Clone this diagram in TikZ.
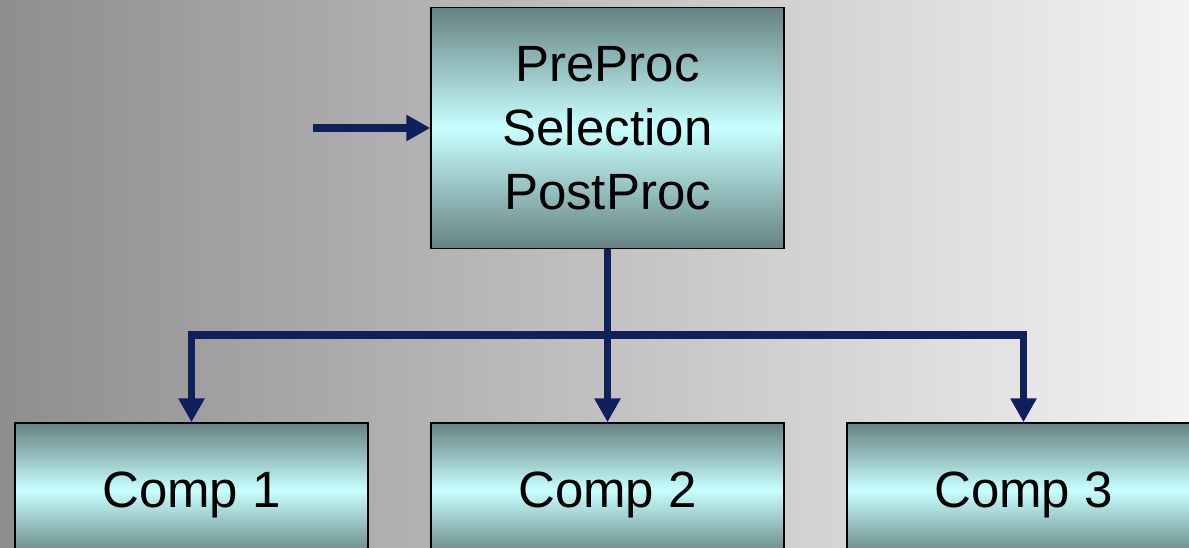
\documentclass[tikz,border=0pt]{standalone}
\usepackage{fontspec}
\setmainfont{Liberation Sans}
\usetikzlibrary{arrows.meta}
\definecolor{bgleft}{HTML}{8E8E8E}
\definecolor{bgright}{HTML}{F3F3F3}
\definecolor{boxdark}{HTML}{668282}
\definecolor{boxlight}{HTML}{C8FFFF}
\definecolor{navy}{HTML}{10205A}
\tikzset{
  block/.style={draw=black, line width=1.5pt, rectangle, inner sep=0pt,
    minimum width=353pt, top color=boxdark, bottom color=boxdark,
    middle color=boxlight, shading=axis, align=center,
    font=\fontsize{51}{64}\selectfont},
  compblock/.style={block, minimum height=134pt, text depth=0pt},
  conn/.style={draw=navy, line width=7.5pt, line join=miter,
    -{Triangle[length=24pt,width=25pt]}}
}
\begin{document}
\begin{tikzpicture}[x=1pt,y=-1pt]
  \useasboundingbox (0,0) rectangle (1189,548);
  \clip (0,0) rectangle (1189,548);
  % background
  \shade[left color=bgleft, right color=bgright] (0,0) rectangle (1189,548);
  % main processing block
  \node[block, minimum height=241pt] (pre) at (607.5,128)
    {PreProc\\Selection\\PostProc};
  % component blocks
  \node[compblock] (c1) at (191.5,490) {Comp 1};
  \node[compblock] (c2) at (607.5,490) {Comp 2};
  \node[compblock] (c3) at (1023.5,490) {Comp 3};
  % input
  \coordinate (in) at (313,128);
  \draw[conn] (in) -- (pre.west);
  % distribution bus
  \coordinate (split) at (607.5,335);
  \draw[conn] (pre.south) -- (c2.north);
  \draw[conn] (split) -| (c1.north);
  \draw[conn] (split) -| (c3.north);
\end{tikzpicture}
\end{document}
